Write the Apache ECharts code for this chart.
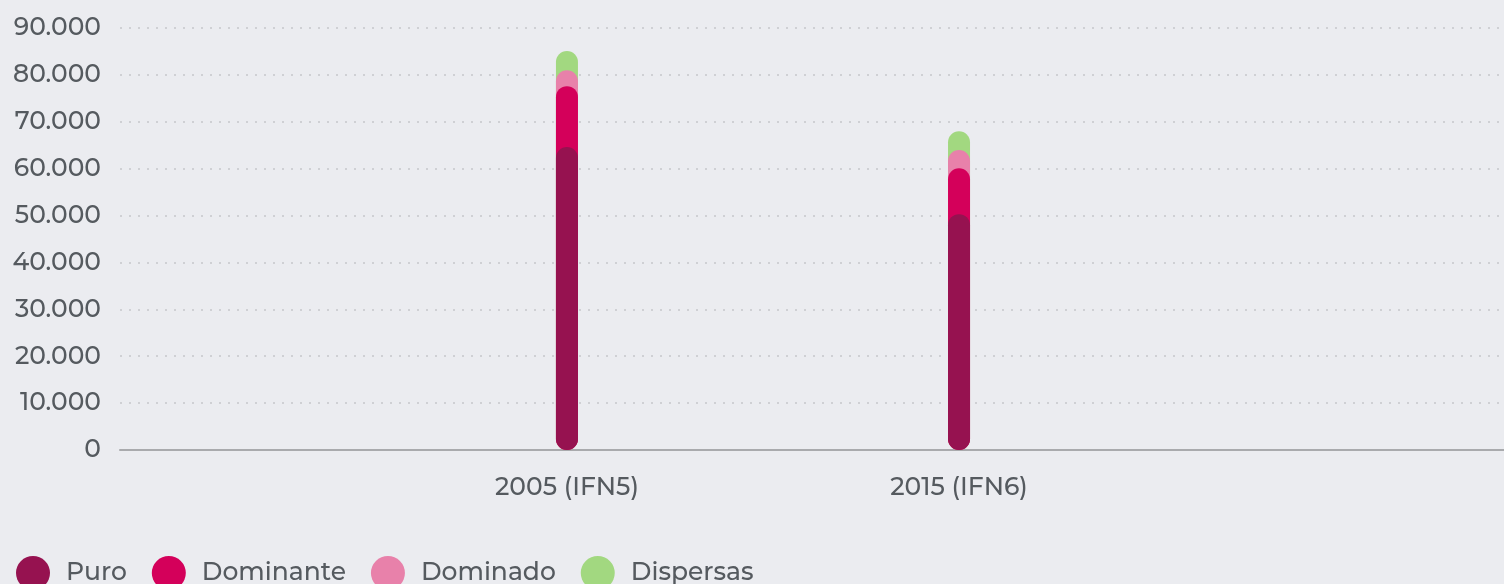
<!DOCTYPE html>
<html>
<head>
<meta charset="utf-8">
<script src="https://cdn.jsdelivr.net/npm/echarts@6/dist/echarts.min.js"></script>
<style>
  html, body { margin: 0; padding: 0; background: #ebecf0; }
  #chart { width: 1504px; height: 584px; }
</style>
</head>
<body>
<div id="chart"></div>
<script>
// periodos (posición en el eje x: 0 y 1)
const categories = ['2005 (IFN5)', '2015 (IFN6)'];
const catPos = [0, 1];
// superficie por tipo de masa
const puro = [64600, 50300];
const dominante = [13000, 9800];
const dominado = [3400, 3900];
const dispersas = [4100, 4000];
const yTicks = [0, 10000, 20000, 30000, 40000, 50000, 60000, 70000, 80000, 90000];

const seriesNames = ['Puro', 'Dominante', 'Dominado', 'Dispersas'];
const seriesValues = [puro, dominante, dominado, dispersas];
const colors = ['#961250', '#d4005a', '#e881aa', '#a2d880'];

const chart = echarts.init(document.getElementById('chart'));
const font = 'Montserrat, "DejaVu Sans", sans-serif';

// cada barra se dibuja desde 0 hasta el acumulado, las de abajo encima
const acc = [0, 0];
const series = seriesNames.map((name, i) => {
  const data = catPos.map((x, j) => {
    acc[j] += seriesValues[i][j];
    return [x, acc[j]];
  });
  return {
    name: name,
    type: 'bar',
    data: data,
    barWidth: 22,
    barGap: '-100%',
    z: 10 - i,
    itemStyle: { color: colors[i], borderRadius: 11 }
  };
});

chart.setOption({
  backgroundColor: '#ebecf0',
  animation: false,
  textStyle: { fontFamily: font },
  grid: { left: 120, right: 0, top: 28, bottom: 134 },
  legend: {
    left: 11,
    top: 551,
    icon: 'circle',
    itemWidth: 34,
    itemHeight: 34,
    itemGap: 25,
    data: seriesNames,
    textStyle: { fontFamily: font, fontSize: 25, fontWeight: 500, color: '#555a5f', padding: [0, 0, 0, 11] }
  },
  xAxis: {
    type: 'value',
    min: -1.14,
    max: 2.39,
    splitLine: { show: false },
    axisLine: { show: true, lineStyle: { color: '#a9aaad', width: 2 } },
    axisTick: { show: false },
    axisLabel: {
      customValues: catPos,
      formatter: v => categories[Math.round(v)],
      fontSize: 25,
      fontWeight: 500,
      color: '#555a5f',
      margin: 25,
      fontFamily: font
    }
  },
  yAxis: {
    type: 'value',
    min: 0,
    max: 90000,
    interval: 10000,
    axisLine: { show: false },
    axisTick: { show: false },
    axisLabel: {
      customValues: yTicks,
      formatter: v => v === 0 ? '0' : (v / 1000) + '.000',
      fontSize: 25,
      fontWeight: 500,
      color: '#555a5f',
      margin: 19,
      padding: [5, 0, 0, 0],
      fontFamily: font
    },
    splitLine: { lineStyle: { color: '#cfd0d4', width: 2, type: [2, 7] } }
  },
  series: series
});
</script>
</body>
</html>
